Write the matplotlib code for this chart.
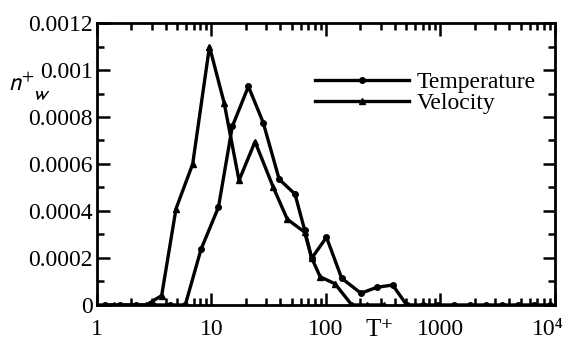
import matplotlib
matplotlib.use("Agg")
import matplotlib.pyplot as plt
import matplotlib.transforms as mtransforms
from matplotlib.ticker import FixedLocator, LogLocator, MultipleLocator, NullFormatter

# curve peaking near T+ = 10
t_a = [1.0, 1.4, 2.0, 2.7, 3.67, 4.9, 6.85, 9.6, 12.9, 17.4, 24, 34.7, 45.9, 65, 75, 89, 120, 168, 230, 320]
n_a = [0, 0, 0, 0, 0.00004, 0.00041, 0.00060, 0.00110, 0.00086, 0.00053, 0.000695, 0.000500,
       0.000365, 0.00031, 0.00020, 0.00012, 0.00009, 0, 0, 0]

# curve peaking near T+ = 20
t_b = [1.17, 1.6, 2.2, 3.1, 4.3, 5.9, 8.1, 11.5, 15.2, 21, 28.3, 39, 53.6, 65, 75, 101, 137, 202,
       277, 382, 507, 700, 960, 1320, 1820, 2500, 3450, 4750, 6550, 9000]
n_b = [0, 0, 0, 0, 0, 0, 0.000237, 0.000416, 0.00076, 0.00093, 0.000776, 0.000535, 0.000472,
       0.00032, 0.000199, 0.000288, 0.000114, 0.00005, 0.000075, 0.000085, 0, 0, 0, 0, 0, 0, 0, 0, 0, 0]

x_ticks = [1, 10, 100, 1000, 10000]
x_labels = ["1", "10", "100", "1000", "10\u2074"]
y_ticks = [0, 0.0002, 0.0004, 0.0006, 0.0008, 0.001, 0.0012]
y_labels = ["0", "0.0002", "0.0004", "0.0006", "0.0008", "0.001", "0.0012"]

plt.rcParams["font.family"] = ["Liberation Serif", "DejaVu Serif"]
plt.rcParams["mathtext.fontset"] = "stix"

fig = plt.figure(figsize=(5.75, 3.45), dpi=100)
ax = fig.add_axes([0.1687, 0.116, 0.7965, 0.8173])

ax.plot(t_b, n_b, color="black", lw=2.4, marker="o", ms=4, label="Temperature")
ax.plot(t_a, n_a, color="black", lw=2.4, marker="^", ms=5, label="Velocity")

ax.set_xscale("log")
ax.set_xlim(1, 10000)
ax.set_ylim(0, 0.0012)

ax.xaxis.set_major_locator(FixedLocator(x_ticks))
ax.xaxis.set_minor_locator(LogLocator(base=10, subs=range(2, 10)))
ax.xaxis.set_minor_formatter(NullFormatter())
ax.set_xticklabels(x_labels)
ax.yaxis.set_major_locator(FixedLocator(y_ticks))
ax.yaxis.set_minor_locator(MultipleLocator(0.0001))
ax.set_yticklabels(y_labels)

ax.tick_params(which="both", direction="in", top=True, right=True, width=1.8, labelsize=17)
ax.tick_params(which="major", length=9)
ax.tick_params(which="minor", length=5)
ax.tick_params(axis="x", pad=10)
ax.tick_params(axis="y", pad=3)
for s in ax.spines.values():
    s.set_linewidth(2)

# keep the 10^4 label inside the figure
last = ax.get_xticklabels()[-1]
last.set_transform(last.get_transform() + mtransforms.ScaledTranslation(-5 / 72, 0, fig.dpi_scale_trans))

leg = ax.legend(loc="upper left", bbox_to_anchor=(0.455, 0.86), frameon=False, fontsize=17,
                handlelength=4.0, handletextpad=0.3, labelspacing=-0.05, borderaxespad=0)

fig.text(0.014, 0.735, r"$\mathsf{n}^{+}$", fontsize=18, style="italic")
fig.text(0.056, 0.71, r"$\mathsf{w}$", fontsize=15)
fig.text(0.635, 0.025, "T\u207a", fontsize=18)

fig.savefig("out.png", dpi=100)
